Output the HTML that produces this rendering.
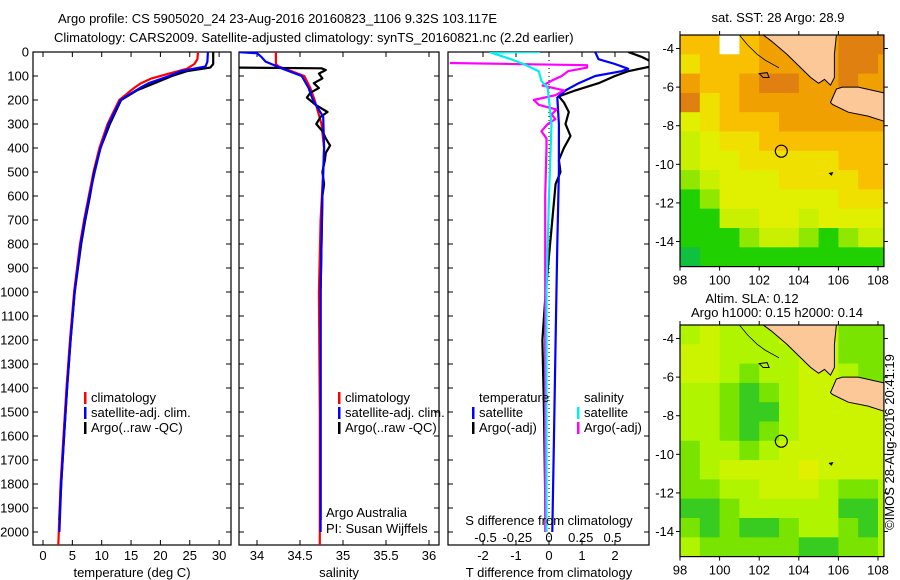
<!DOCTYPE html>
<html><head><meta charset="utf-8">
<style>
html,body{margin:0;padding:0;background:#fff;}
svg{display:block;font-family:"Liberation Sans",sans-serif;}
text{font-size:13px;fill:#000;}
</style></head>
<body>
<svg id="chart" width="900" height="580" viewBox="0 0 900 580">
<text x="58" y="23">Argo profile: CS 5905020_24 23-Aug-2016 20160823_1106 9.32S 103.117E</text>
<text x="54" y="42">Climatology: CARS2009. Satellite-adjusted climatology: synTS_20160821.nc (2.2d earlier)</text>
<g id="p1"></g>
<g id="p2"></g>
<g id="p3"></g>
<g id="m1"></g>
<g id="m2"></g>
<text x="778" y="22" text-anchor="middle">sat. SST: 28 Argo: 28.9</text>
<text x="752" y="303" text-anchor="middle">Altim. SLA: 0.12</text>
<text x="777" y="317" text-anchor="middle">Argo h1000: 0.15 h2000: 0.14</text>
<text transform="translate(894,442) rotate(-90)" text-anchor="middle">©IMOS 28-Aug-2016 20:41:19</text>
<text x="326" y="517">Argo Australia</text>
<text x="326" y="533">PI: Susan Wijffels</text>
</svg>
<script>
// ---- data ----
const depthTicks=[0,100,200,300,400,500,600,700,800,900,1000,1100,1200,1300,1400,1500,1600,1700,1800,1900,2000];
const tempTicks=[0,5,10,15,20,25,30];
const salTicks=[34,34.5,35,35.5,36];
const dTTicks=[-2,-1,0,1,2];
const dSTicks=[-0.5,-0.25,0,0.25,0.5];
const tClimDepth=[0,30,50,70,90,110,130,150,180,200,250,300,400,500,600,700,800,1000,1200,1400,1600,1800,2000,2054];
const tClimVal=[26.4,26.3,25.8,24.5,21.5,18.5,16.7,15.5,14.0,13.0,12.0,11.0,9.6,8.6,7.8,7.0,6.3,5.3,4.6,4.0,3.5,3.0,2.7,2.6];
const tSatDepth=[0,40,60,80,100,130,150,200,250,300,400,500,600,700,800,1000,1200,1400,1600,1800,2000];
const tSatVal=[28.1,28.0,27.7,23.5,21.5,18.0,16.5,13.2,12.2,11.2,9.8,8.8,7.9,7.1,6.4,5.4,4.7,4.1,3.6,3.1,2.8];
const tArgoDepth=[0,50,65,80,100,130,160,200,300,400,500,600,700,800,1000,1200,1400,1600,1800,1950];
const tArgoVal=[29.0,29.0,28.5,24.5,22.0,19.0,16.0,13.3,11.4,9.8,8.7,8.0,7.2,6.5,5.4,4.7,4.1,3.6,3.1,2.8];
const sClimDepth=[0,50,60,80,100,150,200,300,400,500,700,1000,1500,2054];
const sClimVal=[34.22,34.22,34.25,34.4,34.55,34.62,34.67,34.75,34.78,34.77,34.74,34.72,34.73,34.73];
const sSatDepth=[0,5,20,40,70,100,150,200,270,400,600,1000,2000];
const sSatVal=[33.75,34.0,34.05,34.1,34.3,34.52,34.6,34.65,34.77,34.78,34.76,34.74,34.74];
const sArgoDepth=[0,65,68,75,90,110,130,150,170,190,220,250,270,300,330,360,390,420,450,500,550,600,800,1000,1500,1950];
const sArgoVal=[33.75,33.75,34.75,34.8,34.72,34.76,34.66,34.72,34.62,34.58,34.68,34.82,34.74,34.69,34.76,34.8,34.85,34.8,34.79,34.76,34.78,34.76,34.75,34.74,34.74,34.74];
const dTSatDepth=[0,30,50,70,80,100,130,160,190,300,500,800,1200,1600,2000];
const dTSatVal=[1.4,1.5,2.0,2.4,2.2,1.4,0.9,0.5,0.25,0.3,0.3,0.25,0.2,0.15,0.1];
const dTArgoDepth=[0,20,40,60,80,100,130,160,185,210,250,300,350,400,450,500,550,700,1000,1200,1500,2000];
const dTArgoVal=[2.4,2.8,3.1,3.1,2.4,2.0,1.5,0.8,0.3,0.45,0.6,0.5,0.65,0.45,0.3,0.35,0.2,0.1,-0.1,-0.2,-0.15,-0.1];
const dSSatDepth=[0,2,30,50,80,120,150,300,600,1000,2000];
const dSSatVal=[-0.07,-0.46,-0.3,-0.2,-0.08,-0.06,-0.01,0.02,0.0,-0.02,-0.02];
const dSArgoDepth=[46,55,65,80,100,120,140,160,180,200,220,240,260,280,300,330,360,400,600,1000,1500,2000];
const dSArgoVal=[-0.78,0.3,0.3,0.15,0.1,0.02,-0.05,0.12,0.05,-0.12,-0.08,0.06,0.02,0.05,-0.01,-0.06,-0.02,-0.02,-0.03,-0.03,-0.03,-0.03];
// SST map (deg C), rows from lat -3.3 southward, cols from lon 98 eastward; null = no data
const sstRows=[
[28.4,28.7,null,28.7,29.0,29.0,29.0,29.0,29.2,29.2,29.2],
[28.2,28.6,28.6,28.7,29.0,29.0,29.0,29.0,29.2,29.2,29.0],
[29.0,28.6,28.6,29.0,29.2,29.2,29.0,29.0,29.2,29.0,29.0],
[29.2,28.2,28.6,29.0,29.0,29.0,29.0,29.0,29.0,29.0,29.0],
[27.9,28.2,28.6,28.6,28.6,29.0,29.0,29.0,29.0,29.0,29.0],
[27.8,27.9,28.2,28.2,28.6,28.6,28.6,28.6,28.6,28.6,28.6],
[27.8,27.9,27.9,28.2,28.2,28.2,28.2,28.2,28.6,28.6,28.6],
[27.5,27.8,27.9,27.9,27.9,28.2,28.2,28.2,28.2,28.6,28.6],
[27.1,27.5,27.9,27.9,27.9,27.9,27.9,27.9,28.2,28.2,28.2],
[27.1,27.1,27.8,27.8,27.9,27.9,27.8,27.9,27.9,27.9,27.9],
[27.1,27.1,27.1,27.5,27.8,27.8,27.5,27.1,27.5,27.8,27.8],
[26.8,27.1,27.1,27.1,27.1,27.1,27.1,27.1,27.1,27.1,27.1]];
// SLA map (m)
const slaRows=[
[0.12,0.14,0.12,0.12,0.12,0.14,0.14,0.14,0.08,0.08,0.08],
[0.14,0.14,0.12,0.12,0.12,0.12,0.14,0.14,0.08,0.08,0.08],
[0.14,0.14,0.12,0.08,0.12,0.12,0.14,0.14,0.12,0.08,0.08],
[0.12,0.12,0.08,0.05,0.08,0.12,0.14,0.14,0.14,0.14,0.14],
[0.12,0.12,0.08,0.05,0.05,0.12,0.14,0.14,0.14,0.14,0.14],
[0.12,0.12,0.08,0.05,0.08,0.12,0.14,0.14,0.14,0.14,0.14],
[0.08,0.12,0.12,0.08,0.12,0.14,0.14,0.14,0.14,0.14,0.14],
[0.08,0.12,0.14,0.14,0.14,0.14,0.16,0.14,0.14,0.14,0.14],
[0.08,0.08,0.12,0.12,0.14,0.14,0.14,0.12,0.08,0.08,0.12],
[0.05,0.05,0.08,0.12,0.12,0.12,0.12,0.12,0.05,0.05,0.12],
[0.08,0.05,0.08,0.05,0.05,0.08,0.12,0.12,0.08,0.05,0.12],
[0.12,0.08,0.08,0.08,0.08,0.08,0.05,0.05,0.08,0.08,0.12]];
const argoLon=103.117, argoLat=-9.32;

// ---- helpers ----
const NS='http://www.w3.org/2000/svg';
function mk(tag,attrs,parent){const e=document.createElementNS(NS,tag);for(const k in attrs)e.setAttribute(k,attrs[k]);parent.appendChild(e);return e;}
const yDepth=d=>52+d*0.24;
const PT=52,PB=545;
function panel(g,x0,x1,xs,xticks,fmt,name,depthLabels){
  const r=mk('rect',{x:x0,y:PT,width:x1-x0,height:PB-PT,fill:'#fff',stroke:'#000','stroke-width':1.2},g);
  
  
  depthTicks.forEach(d=>{
    const y=yDepth(d);
    mk('line',{x1:x0,x2:x0+5,y1:y,y2:y,stroke:'#000'},g);
    mk('line',{x1:x1-5,x2:x1,y1:y,y2:y,stroke:'#000'},g);
    if(depthLabels){const t=mk('text',{x:x0-4,y:y+4.5,'text-anchor':'end'},g);t.textContent=d;
      
      }
  });
  xticks.forEach(v=>{
    const x=xs(v);
    mk('line',{x1:x,x2:x,y1:PB,y2:PB-5,stroke:'#000'},g);
    mk('line',{x1:x,x2:x,y1:PT,y2:PT+5,stroke:'#000'},g);
    if(fmt){const t=mk('text',{x:x,y:560,'text-anchor':'middle'},g);t.textContent=fmt(v);
      
      }
  });
}
function line(g,xs,depths,vals,color,w,name,clip){
  let d='';depths.forEach((dp,i)=>{d+=(i?'L':'M')+xs(vals[i]).toFixed(1)+','+yDepth(dp).toFixed(1);});
  const p=mk('path',{d:d,fill:'none',stroke:color,'stroke-width':w,'stroke-linejoin':'round','clip-path':'url(#'+clip+')'},g);
  
  
}
const defs=mk('defs',{},document.getElementById('chart'));
[['c1',33,231],['c2',239,439],['c3',448,649]].forEach(([id,a,b])=>{const c=mk('clipPath',{id:id},defs);mk('rect',{x:a,y:PT,width:b-a,height:PB-PT},c);});
function legend(g,x,y,items){
  items.forEach((it,i)=>{
    if(it[1]){mk('rect',{x:x,y:y+i*15-10,width:2.5,height:12,fill:it[1]},g);}
    const t=mk('text',{x:x+7,y:y+i*15},g);t.textContent=it[0];
    
    
  });
}

// ---- panel 1 ----
const p1=document.getElementById('p1');
const xT=v=>43+v*5.87;
panel(p1,33,231,xT,tempTicks,v=>v,'temperature',true);
line(p1,xT,tClimDepth,tClimVal,'#f00',2.2,'temp-climatology-line','c1');
line(p1,xT,tArgoDepth,tArgoVal,'#000',2.2,'temp-argo-line','c1');
line(p1,xT,tSatDepth,tSatVal,'#00f',2.2,'temp-satellite-line','c1');
legend(p1,84,402,[['climatology','#f00'],['satellite-adj. clim.','#00f'],['Argo(..raw -QC)','#000']]);
let t=mk('text',{x:132,y:577,'text-anchor':'middle'},p1);t.textContent='temperature (deg C)';



// ---- panel 2 ----
const p2=document.getElementById('p2');
const xS=v=>257+(v-34)*86;
panel(p2,239,439,xS,salTicks,v=>v,'salinity',false);
line(p2,xS,sClimDepth,sClimVal,'#f00',2.2,'sal-climatology-line','c2');
line(p2,xS,sArgoDepth,sArgoVal,'#000',2.2,'sal-argo-line','c2');
line(p2,xS,sSatDepth,sSatVal,'#00f',2.2,'sal-satellite-line','c2');
legend(p2,338,402,[['climatology','#f00'],['satellite-adj. clim.','#00f'],['Argo(..raw -QC)','#000']]);
t=mk('text',{x:339,y:577,'text-anchor':'middle'},p2);t.textContent='salinity';



// ---- panel 3 ----
const p3=document.getElementById('p3');
const xdT=v=>549+v*33;
const xdS=v=>549+v*127;
panel(p3,448,649,xdT,dTTicks,v=>v,'t-difference',false);
mk('line',{x1:549,x2:549,y1:PT,y2:PB,stroke:'#000','stroke-dasharray':'1,3'},p3);
line(p3,xdT,dTArgoDepth,dTArgoVal,'#000',2.2,'dT-argo-line','c3');
line(p3,xdT,dTSatDepth,dTSatVal,'#00f',2.2,'dT-satellite-line','c3');
line(p3,xdS,dSArgoDepth,dSArgoVal,'#f0f',2.2,'dS-argo-line','c3');
line(p3,xdS,dSSatDepth,dSSatVal,'#0ee',2.2,'dS-satellite-line','c3');
dSTicks.forEach(v=>{const tt=mk('text',{x:xdS(v),y:542,'text-anchor':'middle'},p3);tt.textContent=v;
  
  });
t=mk('text',{x:549,y:525,'text-anchor':'middle'},p3);t.textContent='S difference from climatology';


t=mk('text',{x:549,y:577,'text-anchor':'middle'},p3);t.textContent='T difference from climatology';


legend(p3,472,402,[['temperature',null],['satellite','#00f'],['Argo(-adj)','#000']]);
legend(p3,577,402,[['salinity',null],['satellite','#0ee'],['Argo(-adj)','#f0f']]);

// ---- maps ----
const LON0=98,LON1=108.3,LAT0=-3.3,LAT1=-15.3;
const mx=l=>680+(l-98)*19.8;
function sstColor(v){if(v===null)return '#fff';if(v<27)return '#10c040';if(v<27.3)return '#20d000';if(v<27.7)return '#90e800';if(v<27.85)return '#c8f000';if(v<28.0)return '#e0f000';if(v<28.4)return '#f0e000';if(v<28.8)return '#f8c000';if(v<29.1)return '#f0a000';return '#e08010';}
function slaColor(v){if(v<0.06)return '#38cc20';if(v<0.1)return '#78e400';if(v<0.13)return '#b0f400';if(v<0.15)return '#ccf400';return '#e0f000';}
function map(g,yTop,rows,colorFn,name){
  const my=la=>yTop+(LAT0-la)*19.3;
  const cid='clip'+name;const c=mk('clipPath',{id:cid},defs);mk('rect',{x:mx(LON0),y:my(LAT0),width:mx(LON1)-mx(LON0),height:my(LAT1)-my(LAT0)},c);
  const cg=mk('g',{'clip-path':'url(#'+cid+')'},g);
  rows.forEach((row,j)=>row.forEach((v,i)=>{
    const cell=mk('rect',{x:mx(LON0+i),y:my(LAT0-j),width:20.3,height:19.8,fill:colorFn(v)},cg);
    
    
  }));
  const P=pts=>pts.map(p=>mx(p[0]).toFixed(1)+','+my(p[1]).toFixed(1)).join(' ');
  const sum=mk('polygon',{points:P([[102.2,-3.3],[102.6,-3.6],[103.4,-4.3],[104.0,-4.9],[104.6,-5.5],[105.0,-5.8],[105.3,-5.6],[105.6,-5.9],[105.8,-5.5],[105.8,-4.3],[105.9,-3.3]]),fill:'#fcc898',stroke:'#000','stroke-width':1},cg);
  
  
  const jav=mk('polygon',{points:P([[105.6,-6.8],[105.9,-6.1],[106.2,-6.0],[107,-6.0],[108.3,-6.3],[108.4,-7.8],[107.5,-7.5],[106.5,-7.3],[105.7,-6.9]]),fill:'#fcc898',stroke:'#000','stroke-width':1},cg);
  
  
  mk('polyline',{points:P([[101.0,-3.3],[101.4,-3.8],[101.9,-4.3],[102.3,-4.6],[103.0,-5.0]]),fill:'none',stroke:'#000','stroke-width':0.8},cg);
  mk('polygon',{points:P([[102.0,-5.3],[102.4,-5.25],[102.5,-5.5],[102.2,-5.5]]),fill:'none',stroke:'#000','stroke-width':1},cg);
  mk('polygon',{points:P([[105.5,-10.45],[105.75,-10.4],[105.65,-10.6]]),fill:'#000'},cg);
  const fr=mk('rect',{x:mx(LON0),y:my(LAT0),width:mx(LON1)-mx(LON0),height:my(LAT1)-my(LAT0),fill:'none',stroke:'#000','stroke-width':1.2},g);
  
  
  const circ=mk('circle',{cx:mx(argoLon),cy:my(argoLat),r:6,fill:'none',stroke:'#000','stroke-width':1.2},g);
  
  
  [98,100,102,104,106,108].forEach(l=>{const x=mx(l);
    mk('line',{x1:x,x2:x,y1:my(LAT1),y2:my(LAT1)+4,stroke:'#000'},g);
    mk('line',{x1:x,x2:x,y1:my(LAT0),y2:my(LAT0)-4,stroke:'#000'},g);
    const tt=mk('text',{x:x,y:my(LAT1)+18,'text-anchor':'middle'},g);tt.textContent=l;
    
    });
  [-4,-6,-8,-10,-12,-14].forEach(la=>{const y=my(la);
    mk('line',{x1:mx(LON0)-4,x2:mx(LON0),y1:y,y2:y,stroke:'#000'},g);
    mk('line',{x1:mx(LON1),x2:mx(LON1)+4,y1:y,y2:y,stroke:'#000'},g);
    const tt=mk('text',{x:mx(LON0)-6,y:y+4.5,'text-anchor':'end'},g);tt.textContent=la;
    
    });
}
map(document.getElementById('m1'),35,sstRows,sstColor,'sst-map');
map(document.getElementById('m2'),325,slaRows,slaColor,'sla-map');
</script>
</body></html>
